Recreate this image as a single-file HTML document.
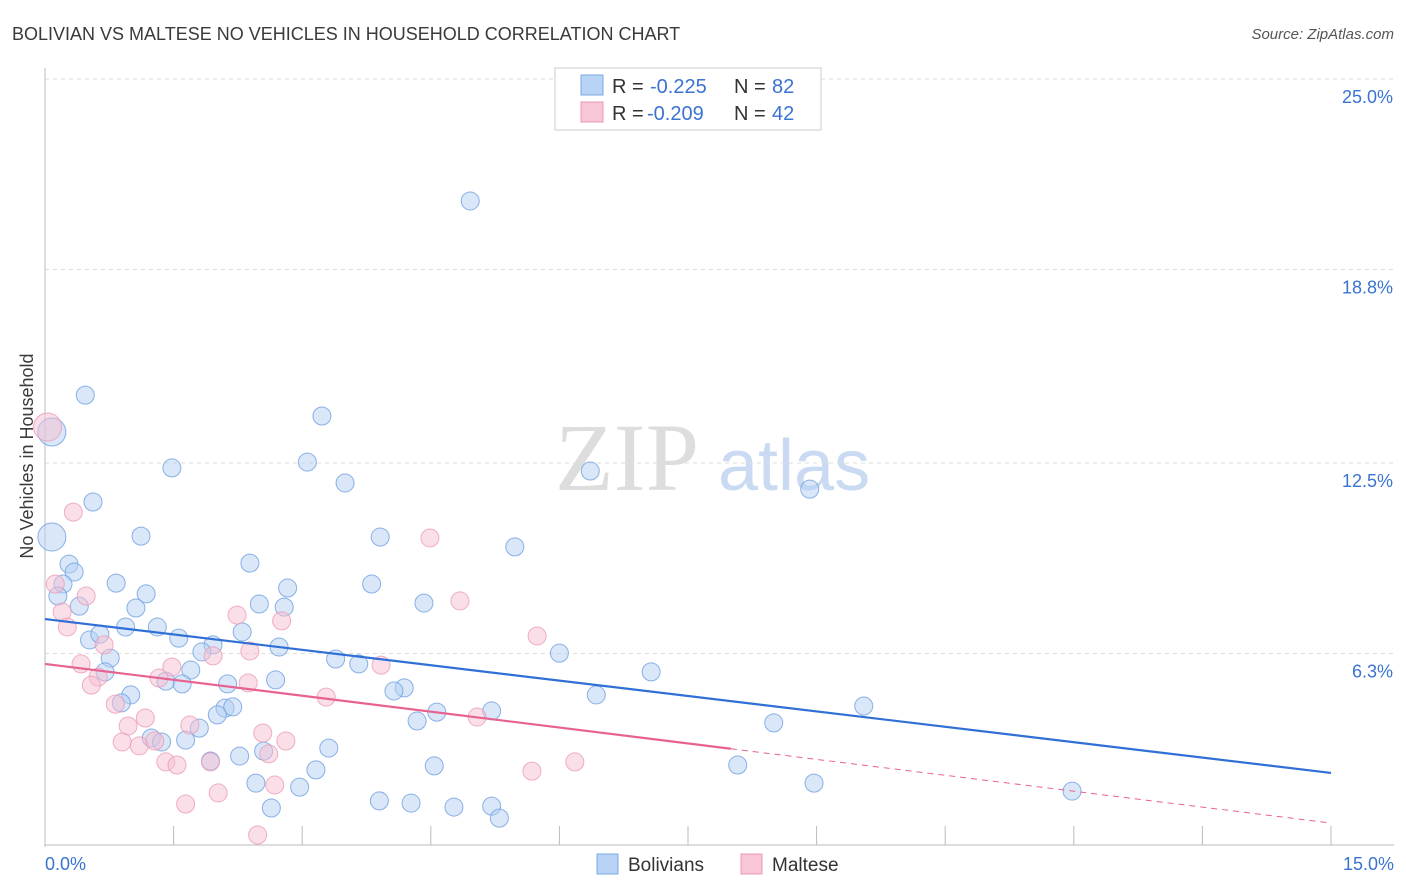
<!DOCTYPE html>
<html><head><meta charset="utf-8"><style>
body{margin:0;background:#fff;font-family:"Liberation Sans",sans-serif;}
#wrap{position:relative;width:1406px;height:892px;overflow:hidden;}
</style></head><body>
<div id="wrap">
<svg id="svg" width="1406" height="892" xmlns="http://www.w3.org/2000/svg">
<text x="12" y="40" font-size="18" fill="#3a3a3a">BOLIVIAN VS MALTESE NO VEHICLES IN HOUSEHOLD CORRELATION CHART</text>
<text x="1394" y="39" font-size="15" fill="#555" font-style="italic" text-anchor="end">Source: ZipAtlas.com</text>
<text x="33" y="456" font-size="18" fill="#3a3a3a" text-anchor="middle" transform="rotate(-90 33 456)">No Vehicles in Household</text>
<text x="555" y="490" font-size="96" fill="#ddd" font-family="Liberation Serif,serif">ZIP</text>
<text x="718" y="490" font-size="72" fill="#c9daf2">atlas</text>
<g id="grid"></g><g id="pts"></g><g id="lines"></g>
<g>
<rect x="555" y="68" width="266" height="62" fill="#fff" stroke="#ccc"/>
<rect x="581" y="75" width="22" height="20" fill="#b8d3f5" stroke="#7aa8e6"/>
<text y="93" font-size="20" fill="#333"><tspan x="612">R =</tspan><tspan x="650" fill="#3a73d1">-0.225</tspan><tspan x="734">N =</tspan><tspan x="772" fill="#3a73d1">82</tspan></text>
<rect x="581" y="102" width="22" height="20" fill="#f9c6d6" stroke="#ec97b3"/>
<text y="120" font-size="20" fill="#333"><tspan x="612">R =</tspan><tspan x="647" fill="#3a73d1">-0.209</tspan><tspan x="734">N =</tspan><tspan x="772" fill="#3a73d1">42</tspan></text>
</g>
<g>
<rect x="597" y="854" width="21" height="20" fill="#b8d3f5" stroke="#7aa8e6"/>
<text x="628" y="871" font-size="19" fill="#333">Bolivians</text>
<rect x="741" y="854" width="21" height="20" fill="#f9c6d6" stroke="#ec97b3"/>
<text x="772" y="871" font-size="19" fill="#333">Maltese</text>
</g>
</svg></div>
<script>
const yTicks=[25.0,18.8,12.5,6.3];
const yTickLabels=["25.0%","18.8%","12.5%","6.3%"];
const xMin=0,xMax=15,yMin=0,yMax=25;
const boliviansX=[4.96,.47,3.23,.08,1.48,3.06,3.50,6.36,8.92,.56,.08,1.12,3.91,5.48,.28,.34,2.39,.21,.83,3.81,2.83,.15,1.18,.40,1.06,2.50,2.79,4.42,.94,1.31,.52,.64,1.56,2.30,1.96,1.83,2.73,.76,3.39,3.66,6.00,.70,1.70,7.07,1.41,1.60,2.13,2.69,4.19,4.07,1.00,6.43,.89,2.10,2.19,2.01,4.57,5.21,9.55,4.34,1.80,8.50,1.24,1.36,1.64,3.31,2.55,1.93,2.27,4.54,8.08,3.16,2.46,2.97,8.97,11.98,2.64,3.90,4.27,4.77,5.21,5.30];
const boliviansY=[21.03,14.71,14.03,13.51,12.34,12.53,11.85,12.24,11.65,11.23,10.09,10.12,10.09,9.77,9.21,8.95,9.24,8.56,8.59,8.56,8.43,8.17,8.24,7.84,7.78,7.91,7.81,7.94,7.16,7.16,6.74,6.93,6.80,7.00,6.58,6.35,6.51,6.15,6.12,5.96,6.31,5.70,5.76,5.70,5.40,5.31,5.31,5.44,5.18,5.08,4.95,4.95,4.69,4.52,4.56,4.30,4.39,4.43,4.59,4.10,3.87,4.04,3.55,3.42,3.48,3.22,3.12,2.80,2.96,2.64,2.67,2.51,2.08,1.95,2.08,1.82,1.27,1.50,1.43,1.30,1.33,.94];
const malteseX=[.03,.12,.33,.20,.48,.26,.69,.42,.62,.54,.82,.97,1.17,.90,1.10,1.28,1.33,1.48,1.69,1.41,1.54,1.64,1.93,1.96,2.02,2.24,2.37,2.39,2.54,2.61,2.68,2.76,2.81,2.48,3.28,3.92,4.49,4.84,5.04,5.74,5.68,6.18];
const malteseY=[13.67,8.56,10.90,7.65,8.17,7.16,6.58,5.96,5.53,5.27,4.65,3.94,4.20,3.42,3.29,3.45,5.50,5.86,3.97,2.77,2.67,1.40,2.77,6.22,1.76,7.55,5.34,6.38,3.71,3.03,2.02,7.36,3.45,.39,4.88,5.92,10.06,8.01,4.23,6.87,2.47,2.77];
const blueTrend=[7.42,2.41];
const pinkTrend=[5.96,0.78];
const pinkSolidEnd=8.0;
const L=45,R=1331,T=79,B=847;
const sx=v=>L+(v-xMin)/(xMax-xMin)*(R-L);
const sy=v=>B-(v-yMin)/(yMax-yMin)*(B-T);
const NS="http://www.w3.org/2000/svg";
function mk(tag,attrs,parent){const e=document.createElementNS(NS,tag);for(const k in attrs)e.setAttribute(k,attrs[k]);parent.appendChild(e);return e;}
const grid=document.getElementById('grid'),pts=document.getElementById('pts'),lines=document.getElementById('lines');
yTicks.forEach((t,i)=>{
 const g=mk('line',{x1:L,x2:1394,y1:sy(t),y2:sy(t),stroke:'#ddd','stroke-dasharray':'4 4'},grid);
 
 
 const tx=mk('text',{x:1393,y:sy(t)+24,'font-size':18,fill:'#3a73d1','text-anchor':'end'},grid);
 tx.textContent=yTickLabels[i];
 
 
});
const ax=mk('line',{x1:L,x2:L,y1:68,y2:B,stroke:'#bbb'},grid);


const bx=mk('line',{x1:L,x2:1394,y1:B-2,y2:B-2,stroke:'#bbb'},grid);


for(let i=0;i<=10;i++){const v=xMin+i*(xMax-xMin)/10;const t=mk('line',{x1:sx(v),x2:sx(v),y1:826,y2:B-2,stroke:'#bbb'},grid);
 
 }
[[xMin,"0.0%",'start',45],[xMax,"15.0%",'end',1394]].forEach(a=>{const t=mk('text',{x:a[3],y:870,'font-size':18,fill:'#3a73d1','text-anchor':a[2]},grid);t.textContent=a[1];
 
 });
function dots(X,Y,fill,stroke,name){X.forEach((x,i)=>{const r=(x<0.1&&Y[i]>9.5)?14:9;
 const c=mk('circle',{cx:sx(x),cy:sy(Y[i]),r:r,fill:fill,'fill-opacity':0.5,stroke:stroke,'stroke-opacity':0.8,'stroke-width':1},pts);
 
 });}
dots(boliviansX,boliviansY,'#b3cff3','#6f9fe0','bolivians-point');
dots(malteseX,malteseY,'#f7c0d2','#eb9bb6','maltese-point');
const bl=mk('line',{x1:sx(xMin),y1:sy(blueTrend[0]),x2:sx(xMax),y2:sy(blueTrend[1]),stroke:'#2f6fd6','stroke-width':2.2},lines);


const pm=pinkTrend[0]+(pinkTrend[1]-pinkTrend[0])*(pinkSolidEnd-xMin)/(xMax-xMin);
const pl=mk('line',{x1:sx(xMin),y1:sy(pinkTrend[0]),x2:sx(pinkSolidEnd),y2:sy(pm),stroke:'#e8628f','stroke-width':2.2},lines);


const pd=mk('line',{x1:sx(pinkSolidEnd),y1:sy(pm),x2:sx(xMax),y2:sy(pinkTrend[1]),stroke:'#e8628f','stroke-width':1,'stroke-dasharray':'6 5'},lines);


</script>
</body></html>
